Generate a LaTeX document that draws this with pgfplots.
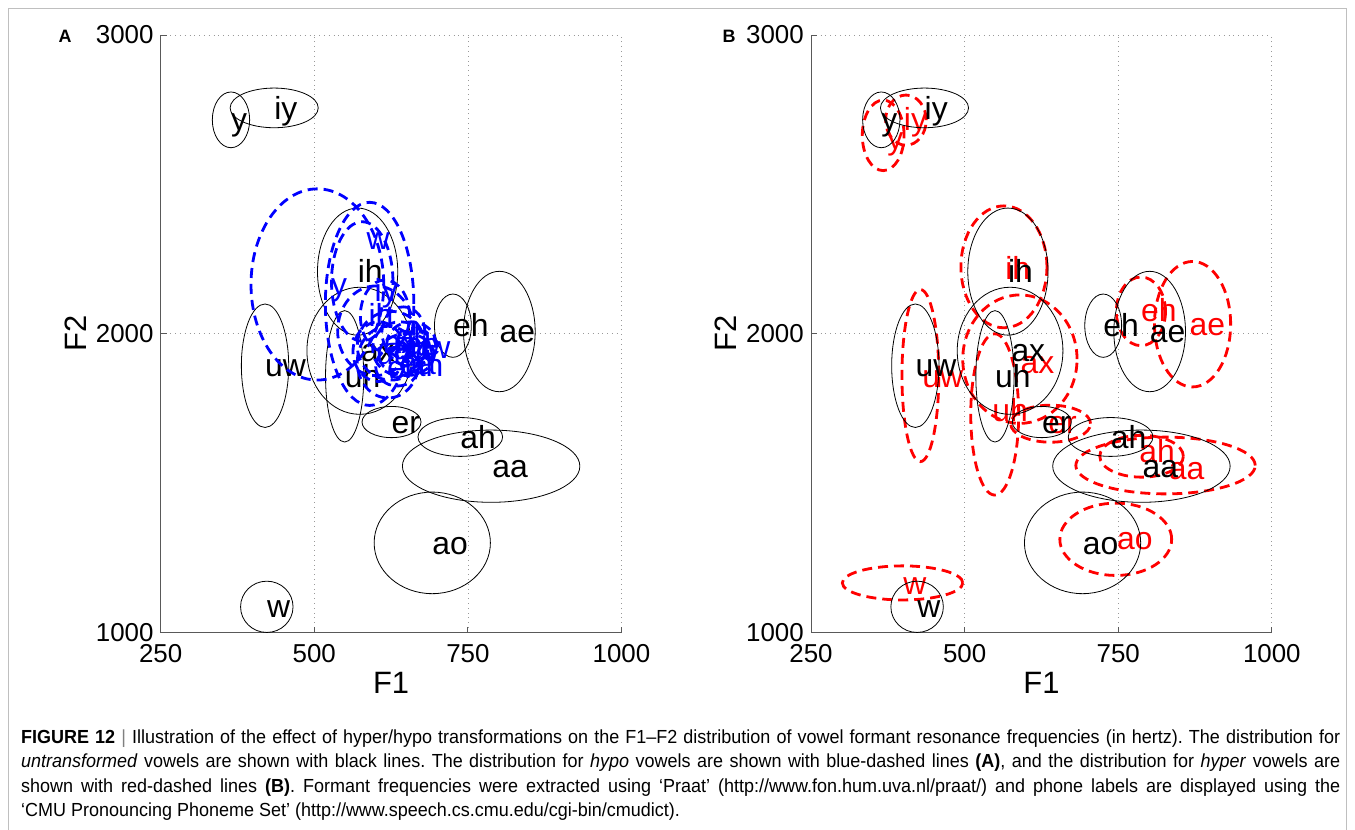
\documentclass[border=0pt]{standalone}
\usepackage{fontspec}
\setmainfont{Liberation Sans}
\newfontfamily\capfont[FakeStretch=0.95]{Liberation Sans}
\usepackage{pgfplots}
\pgfplotsset{compat=1.18}
\definecolor{gridgray}{gray}{0.6}
\definecolor{axgray}{gray}{0.35}
\definecolor{framegray}{gray}{0.75}
\definecolor{mblue}{rgb}{0,0,1}
\definecolor{mred}{rgb}{1,0,0}
\newcommand{\Eb}[4]{\draw[black, line width=0.8bp] (axis cs:#1,#2) ellipse [x radius=#3, y radius=#4];}
\newcommand{\Ed}[5]{\draw[#1, line width=2.8bp, dash pattern=on 10bp off 6bp] (axis cs:#2,#3) ellipse [x radius=#4, y radius=#5];}
\newcommand{\Lab}[4]{\node[anchor=west, inner sep=0pt, text height=29bp, text depth=6.7bp, text=#1, font=\fontsize{32}{32}\selectfont] at (axis cs:#2,#3) {#4};}
\pgfplotsset{vowel/.style={
  scale only axis, width=460.8bp, height=597.5bp,
  xmin=250, xmax=1000, ymin=1000, ymax=3000,
  xtick={250,500,750,1000}, ytick={1000,2000,3000},
  axis x line*=bottom, axis y line*=left,
  tick align=inside, major tick length=6bp,
  axis line style={axgray, line width=0.9bp},
  tick style={axgray, line width=0.9bp},
  grid=major, major grid style={gridgray, line width=0.8bp, dash pattern=on 0.8bp off 4bp},
  /pgf/number format/assume math mode=true,
  /pgf/number format/1000 sep={},
  ticklabel style={font=\fontsize{26}{26}\selectfont},
  xticklabel style={anchor=north, inner sep=0pt, yshift=-12bp},
  yticklabel style={anchor=east, inner sep=0pt, xshift=-7bp},
  xlabel={F1}, ylabel={F2},
  label style={font=\fontsize{31}{31}\selectfont, inner sep=0pt},
  xlabel style={at={(axis description cs:0.5,-0.0845)}, anchor=center},
  ylabel style={at={(axis description cs:-0.185,0.5)}, anchor=center, rotate=0},
}}
\newcommand{\blackset}{%
  \Eb{364.4}{2716}{30.4}{93.3}
  \Eb{434.7}{2756}{71.7}{66.4}
  \Eb{570.5}{2208}{65.3}{212.7}
  \Eb{419.8}{1893}{38.5}{206.7}
  \Eb{574}{1943}{86}{212.7}
  \Eb{549.4}{1857.5}{31.1}{220}
  \Eb{725.6}{2027}{30}{106}
  \Eb{801.2}{2007.5}{58.3}{201.5}
  \Eb{625.7}{1704.5}{48}{52.2}
  \Eb{737.6}{1654.5}{68.9}{65}
  \Eb{787.8}{1556.7}{144.4}{120.9}
  \Eb{692}{1300}{94.6}{170}
  \Eb{422.7}{1086}{42.7}{85.8}
  \Lab{black}{364.4}{2716}{y}
  \Lab{black}{434.7}{2756}{iy}
  \Lab{black}{570.5}{2208}{ih}
  \Lab{black}{419.8}{1893}{uw}
  \Lab{black}{576}{1943}{ax}
  \Lab{black}{549.4}{1857.5}{uh}
  \Lab{black}{725.6}{2027}{eh}
  \Lab{black}{801.2}{2007.5}{ae}
  \Lab{black}{625.7}{1704.5}{er}
  \Lab{black}{737.6}{1654.5}{ah}
  \Lab{black}{789.5}{1556.7}{aa}
  \Lab{black}{692}{1300}{ao}
  \Lab{black}{422.7}{1086}{w}
}
\begin{document}
\frenchspacing
\begin{tikzpicture}
\useasboundingbox (0,0) rectangle (1355bp,-830bp);
\fill[white] (0,0) rectangle (1355bp,-830bp);
\draw[framegray, line width=1.5bp] (8.5bp,-830bp) -- (8.5bp,-8.5bp) -- (1346.5bp,-8.5bp) -- (1346.5bp,-830bp);
\node[font=\fontsize{18}{18}\selectfont\bfseries] at (65bp,-36bp) {A};
\node[font=\fontsize{18}{18}\selectfont\bfseries] at (729bp,-36bp) {B};

\begin{axis}[vowel, at={(160.7bp,-632.5bp)}, anchor=south west]
\blackset
\Ed{mblue}{505}{2165}{108}{320}
\Ed{mblue}{590}{2100}{72}{340}
\Ed{mblue}{578}{2175}{50}{200}
\Ed{mblue}{600}{2010}{62}{150}
\Ed{mblue}{625}{1960}{55}{115}
\Ed{mblue}{640}{1950}{45}{90}
\Ed{mblue}{658}{1965}{40}{75}
\Ed{mblue}{620}{1905}{50}{120}
\Ed{mblue}{605}{1940}{42}{100}
\Ed{mblue}{668}{1955}{30}{55}
\Ed{mblue}{645}{2005}{35}{85}
\Ed{mblue}{635}{1890}{35}{65}
\Ed{mblue}{615}{2060}{40}{120}
\Ed{mblue}{650}{1930}{45}{70}
\Lab{mblue}{585}{2320}{w}
\Lab{mblue}{527}{2165}{y}
\Lab{mblue}{598}{2145}{iy}
\Lab{mblue}{588}{2060}{ih}
\Lab{mblue}{612}{1970}{ax}
\Lab{mblue}{600}{1935}{uh}
\Lab{mblue}{632}{1990}{eh}
\Lab{mblue}{648}{1965}{ae}
\Lab{mblue}{628}{1950}{ao}
\Lab{mblue}{655}{1955}{uw}
\Lab{mblue}{618}{1888}{er}
\Lab{mblue}{640}{1900}{aa}
\Lab{mblue}{652}{1893}{ah}
\end{axis}

\begin{axis}[vowel, at={(811bp,-632.5bp)}, anchor=south west]
\Ed{mred}{367.5}{2664}{34}{118}
\Ed{mred}{404.5}{2715}{33}{84}
\Ed{mred}{564}{2224}{70}{204}
\Ed{mred}{428}{1860}{30}{288}
\Ed{mred}{590}{1915}{93}{215}
\Ed{mred}{549}{1730}{39}{270}
\Ed{mred}{640}{1699}{65}{62}
\Ed{mred}{787}{2075}{40}{115}
\Ed{mred}{871}{2032}{62}{210}
\Ed{mred}{788}{1590}{68}{70}
\Ed{mred}{827}{1559}{146}{95}
\Ed{mred}{746}{1312}{91}{121}
\Ed{mred}{399}{1166}{98}{57}
\Lab{mred}{374}{2655}{y}
\Lab{mred}{401}{2716}{iy}
\Lab{mred}{566}{2220}{ih}
\Lab{mred}{431}{1858}{uw}
\Lab{mred}{591}{1905}{ax}
\Lab{mred}{545}{1745}{uh}
\Lab{mred}{636}{1705}{er}
\Lab{mred}{787}{2078}{eh}
\Lab{mred}{866}{2033}{ae}
\Lab{mred}{784}{1605}{ah}
\Lab{mred}{832}{1550}{aa}
\Lab{mred}{748}{1315}{ao}
\Lab{mred}{400}{1163}{w}
\blackset
\end{axis}

\begin{scope}[every node/.style={anchor=base west, inner sep=0pt, font=\capfont\fontsize{19}{19}\selectfont}]
\node at (21bp,-743bp) {\makebox[1319bp][s]{\textbf{FIGURE 12} {\color{gray}|} Illustration of the effect of hyper/hypo transformations on the F1–F2 distribution of vowel formant resonance frequencies (in hertz). The distribution for}};
\node at (21bp,-767bp) {\makebox[1319bp][s]{\textit{untransformed} vowels are shown with black lines. The distribution for \textit{hypo} vowels are shown with blue-dashed lines \textbf{(A)}, and the distribution for \textit{hyper} vowels are}};
\node at (21bp,-792bp) {\makebox[1319bp][s]{shown with red-dashed lines \textbf{(B)}. Formant frequencies were extracted using ‘Praat’ (http://www.fon.hum.uva.nl/praat/) and phone labels are displayed using the}};
\node at (21bp,-816bp) {‘CMU Pronouncing Phoneme Set’ (http://www.speech.cs.cmu.edu/cgi-bin/cmudict).};
\end{scope}
\end{tikzpicture}
\end{document}
